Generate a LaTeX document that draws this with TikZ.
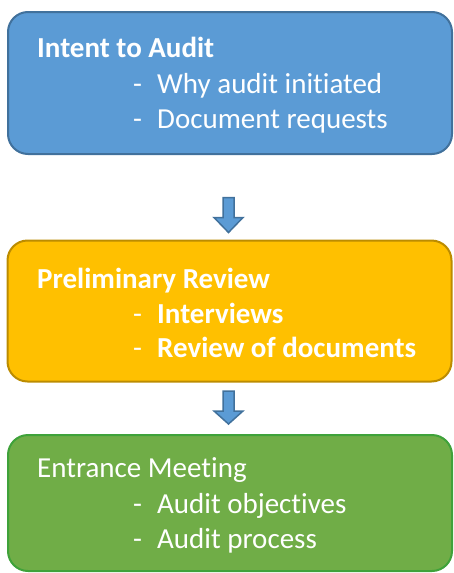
\documentclass[tikz,border=0pt]{standalone}
\usepackage{fontspec}
\setmainfont{Carlito}[Ligatures={NoCommon}]
\usetikzlibrary{calc}
\definecolor{introFill}{HTML}{5B9BD5}
\definecolor{introLine}{HTML}{41719C}
\definecolor{prelimFill}{HTML}{FFC000}
\definecolor{prelimLine}{HTML}{BC8C00}
\definecolor{entryFill}{HTML}{70AD47}
\definecolor{entryLine}{HTML}{3FA23A}
\newcommand{\dashitem}[1]{\makebox[24pt][l]{-}#1}
\begin{document}
\begin{tikzpicture}
      [x=1pt, y=1pt,
      stage/.style={rectangle, rounded corners=20pt, line width=2pt, minimum width=444pt, inner sep=0pt},
      stagetext/.style={anchor=base west, inner sep=0pt, text=white, font=\fontsize{29}{35}\selectfont},
      flowarrow/.style={fill=introFill, draw=introLine, line width=1.5pt, line join=miter},
      ]
      \useasboundingbox (0,0) rectangle (454,-573);
      % boxes
      \node[stage, fill=introFill, draw=introLine, minimum height=142pt] (intent) at (230,-83) {};
      \node[stage, fill=prelimFill, draw=prelimLine, minimum height=141pt] (prelim) at (229.5,-311) {};
      \node[stage, fill=entryFill, draw=entryLine, minimum height=136pt] (entrance) at (230,-503) {};
      % texts
      \node[stagetext] (intentT) at (37,-57) {\textbf{Intent to Audit}};
      \node[stagetext] (intentA) at (133,-93) {\dashitem{Why audit initiated}};
      \node[stagetext] (intentB) at (133,-128) {\dashitem{Document requests}};
      \node[stagetext] (prelimT) at (37,-288) {\textbf{Preliminary Review}};
      \node[stagetext] (prelimA) at (133,-323) {\dashitem{\textbf{Interviews}}};
      \node[stagetext] (prelimB) at (133,-357) {\dashitem{\textbf{Review of documents}}};
      \node[stagetext] (entranceT) at (37,-477) {Entrance Meeting};
      \node[stagetext] (entranceA) at (133,-513) {\dashitem{Audit objectives}};
      \node[stagetext] (entranceB) at (133,-548) {\dashitem{Audit process}};
      % arrows
      \coordinate (tipA) at ($(prelim.north)+(-1,7)$);
      \coordinate (tipB) at ($(entrance.north)+(-1.5,10)$);
      \draw[flowarrow] (tipA) -- ++(-14.5,15) -- ++(9,0) -- ++(0,20) -- ++(11,0) -- ++(0,-20) -- ++(9,0) -- cycle;
      \draw[flowarrow] (tipB) -- ++(-14.5,13) -- ++(9,0) -- ++(0,20) -- ++(11,0) -- ++(0,-20) -- ++(9,0) -- cycle;
      \end{tikzpicture}
\end{document}
